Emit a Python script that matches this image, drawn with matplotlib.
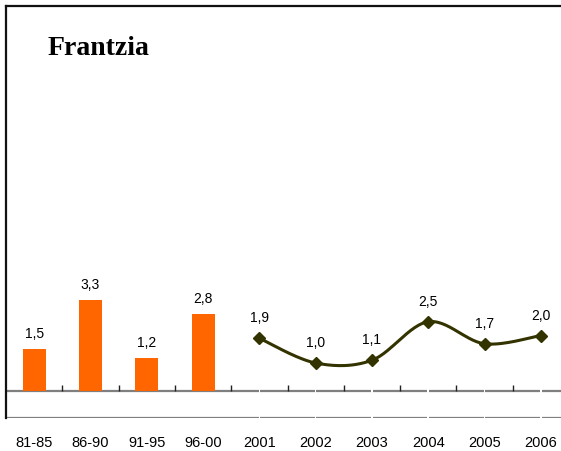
import numpy as np
import matplotlib
matplotlib.use("Agg")
import matplotlib.pyplot as plt

# period averages (bars) and yearly values (line)
bar_cats = ["81-85", "86-90", "91-95", "96-00"]
bar_vals = [1.5, 3.3, 1.2, 2.8]
line_cats = ["2001", "2002", "2003", "2004", "2005", "2006"]
line_vals = [1.9, 1.0, 1.1, 2.5, 1.7, 2.0]
title = "Frantzia"

ORANGE = "#ff6600"
OLIVE = "#333300"
GRAY = "#7f7f7f"


def smooth(x, y, n=30):
    """Catmull-Rom path through the points (like Excel's smoothed line)."""
    x = np.asarray(x, float); y = np.asarray(y, float)
    px = np.r_[x[0], x, x[-1]]; py = np.r_[y[0], y, y[-1]]
    xs, ys = [], []
    t = np.linspace(0, 1, n)
    for i in range(1, len(px) - 2):
        for p, out in ((px, xs), (py, ys)):
            p0, p1, p2, p3 = p[i - 1], p[i], p[i + 1], p[i + 2]
            c1 = p1 + (p2 - p0) / 6
            c2 = p2 - (p3 - p1) / 6
            out.extend((1 - t) ** 3 * p1 + 3 * (1 - t) ** 2 * t * c1
                       + 3 * (1 - t) * t ** 2 * c2 + t ** 3 * p2)
    return np.array(xs), np.array(ys)


plt.rcParams["font.family"] = ["Liberation Sans", "DejaVu Sans"]

fig = plt.figure(figsize=(5.61, 4.52), dpi=100)
ax = fig.add_axes([6 / 561, 33 / 452, 563 / 561, 412.5 / 452])

cats = bar_cats + line_cats
xb = np.arange(len(bar_cats))
xl = np.arange(len(bar_cats), len(cats))

ax.bar(xb, bar_vals, width=0.41, color=ORANGE, zorder=3)
for x, v in zip(xb, bar_vals):
    ax.annotate(f"{v:.1f}".replace(".", ","), (x, v), xytext=(0, 11.5),
                textcoords="offset points", ha="center", va="center", fontsize=10)

sx, sy = smooth(xl, line_vals)
ax.plot(sx, sy, color=OLIVE, lw=2.2, zorder=4, solid_capstyle="round")
ax.plot(xl, line_vals, ls="none", marker="D", ms=6, color=OLIVE, zorder=5)
for x, v in zip(xl, line_vals):
    ax.annotate(f"{v:.1f}".replace(".", ","), (x, v), xytext=(0, 15),
                textcoords="offset points", ha="center", va="center", fontsize=10)

ax.set_xlim(-0.5, len(cats) - 0.5)
ax.set_ylim(-1, 14)

# zero line and bottom line, broken at the yearly points
gap = 0.015
edges = [-0.5]
for x in xl:
    edges += [x - gap, x + gap]
edges.append(len(cats) - 0.5)
for y in (0, -1):
    for a, b in zip(edges[::2], edges[1::2]):
        ax.plot([a, b], [y, y], color=GRAY, lw=1.6, zorder=2, solid_capstyle="butt")
ax.vlines(np.arange(len(cats)) + 0.5, 0, 0.2, color="#222222", lw=1, zorder=2)

for side in ("right", "bottom"):
    ax.spines[side].set_visible(False)
for side in ("left", "top"):
    ax.spines[side].set_color("#111111")
    ax.spines[side].set_linewidth(1.6)
ax.set_yticks([])
ax.set_xticks([])
for x, c in enumerate(cats):
    ax.text(x, -0.058, c, transform=ax.get_xaxis_transform(), ha="center",
            va="center", fontsize=10.5, clip_on=False)

fig.text(48 / 561, 1 - 55 / 452, title, family=["Liberation Serif"], fontsize=20,
         fontweight="bold", va="baseline", ha="left")

fig.savefig("out.png", dpi=100)
